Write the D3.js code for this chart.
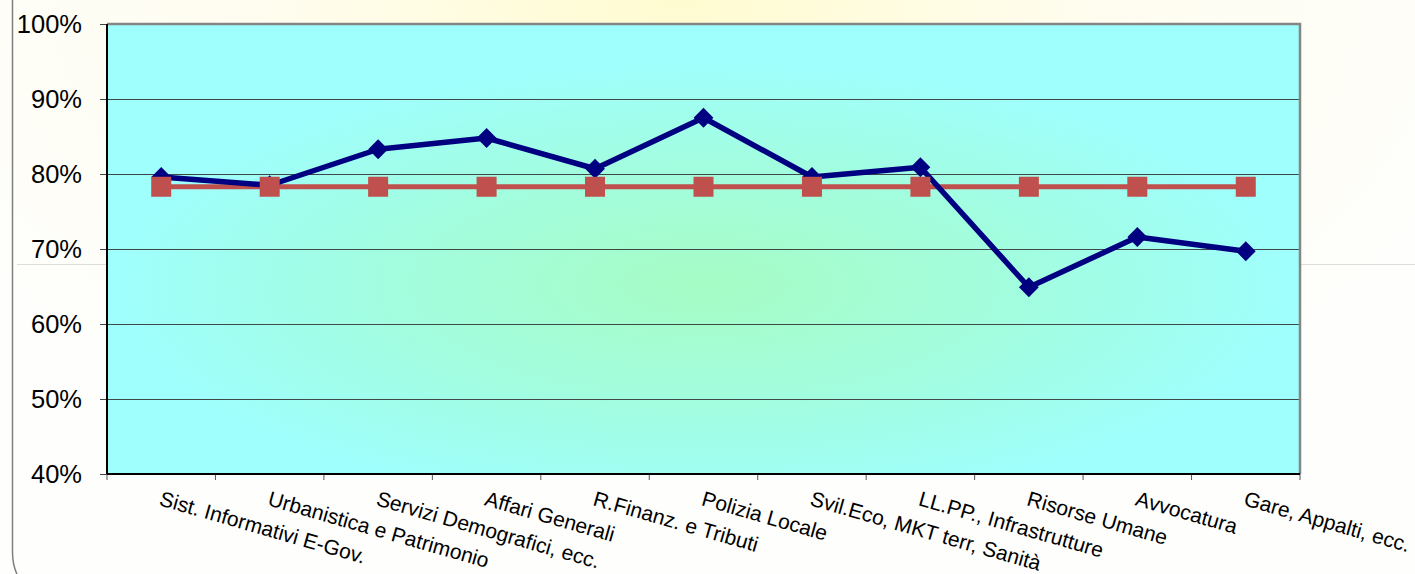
<!DOCTYPE html>
<html>
<head>
<meta charset="utf-8">
<script src="https://cdn.jsdelivr.net/npm/d3@7"></script>
<style>
  body { margin: 0; background: #fff; }
  svg { display: block; font-family: "Liberation Sans", Arial, sans-serif; }
</style>
</head>
<body>
<div class="wrapper"></div>
<script>
var categories = [
  "Sist. Informativi E-Gov.",
  "Urbanistica e Patrimonio",
  "Servizi Demografici, ecc.",
  "Affari Generali",
  "R.Finanz. e Tributi",
  "Polizia Locale",
  "Svil.Eco, MKT terr, Sanità",
  "LL.PP., Infrastrutture",
  "Risorse Umane",
  "Avvocatura",
  "Gare, Appalti, ecc."
];
var seriesValues = [0.796, 0.785, 0.833, 0.848, 0.807, 0.875, 0.796, 0.809, 0.649, 0.716, 0.697];
var averageValues = [0.783, 0.783, 0.783, 0.783, 0.783, 0.783, 0.783, 0.783, 0.783, 0.783, 0.783];
var yTicks = [0.4, 0.5, 0.6, 0.7, 0.8, 0.9, 1.0];

var width = 1415, height = 574;
var margin = { top: 24, right: 115, bottom: 100, left: 107 };
var plotW = width - margin.left - margin.right;
var plotH = height - margin.top - margin.bottom;

var svg = d3.select(".wrapper").append("svg")
  .attr("width", width)
  .attr("height", height);

var defs = svg.append("defs");

// page background: pale yellow glow at the top centre
var bgGrad = defs.append("radialGradient")
  .attr("id", "bgGrad")
  .attr("cx", "0.48").attr("cy", "0")
  .attr("r", "0.6")
  .attr("gradientTransform", "translate(0.48,0) scale(1,1.4) translate(-0.48,0)");
bgGrad.append("stop").attr("offset", "0").attr("stop-color", "#fffbd0");
bgGrad.append("stop").attr("offset", "0.5").attr("stop-color", "#fffdf0");
bgGrad.append("stop").attr("offset", "1").attr("stop-color", "#fefefc");

// plot area: green centre fading to cyan edges
var plotGrad = defs.append("radialGradient")
  .attr("id", "plotGrad")
  .attr("cx", "0.5").attr("cy", "0.58")
  .attr("r", "0.5");
plotGrad.append("stop").attr("offset", "0").attr("stop-color", "#a6fcc4");
plotGrad.append("stop").attr("offset", "0.55").attr("stop-color", "#a2fde0");
plotGrad.append("stop").attr("offset", "1").attr("stop-color", "#9ffffd");

svg.append("rect")
  .attr("width", width).attr("height", height)
  .attr("fill", "url(#bgGrad)");

// faint line hidden behind the chart
svg.append("line")
  .attr("x1", 17).attr("x2", width)
  .attr("y1", 264.5).attr("y2", 264.5)
  .attr("stroke", "#dcdcdc").attr("stroke-width", 1);

// outer frame (rounded left edge)
svg.append("path")
  .attr("d", "M12.5,0 L12.5,552 Q12.5,568 20,580")
  .attr("fill", "none")
  .attr("stroke", "#7f7f7f")
  .attr("stroke-width", 1.5);

var x = d3.scaleBand()
  .domain(categories)
  .range([0, plotW])
  .paddingInner(0).paddingOuter(0);

var y = d3.scaleLinear()
  .domain([0.4, 1.0])
  .range([plotH, 0]);

var g = svg.append("g")
  .attr("transform", "translate(" + margin.left + "," + margin.top + ")");

g.append("rect")
  .attr("width", plotW).attr("height", plotH)
  .attr("fill", "url(#plotGrad)");

// gridlines
g.append("g")
  .selectAll("line")
  .data(yTicks.filter(function(d) { return d > 0.4 && d < 1.0; }))
  .enter().append("line")
  .attr("x1", 0).attr("x2", plotW)
  .attr("y1", function(d) { return Math.round(y(d)) + 0.5; })
  .attr("y2", function(d) { return Math.round(y(d)) + 0.5; })
  .attr("stroke", "#3f4a48").attr("stroke-width", 1);

// top and right border
g.append("path")
  .attr("d", "M0,0 H" + plotW + " V" + plotH)
  .attr("fill", "none")
  .attr("stroke", "#858585")
  .attr("stroke-width", 2.5);

// y axis
var yAxis = d3.axisLeft(y)
  .tickValues(yTicks)
  .tickFormat(d3.format(".0%"))
  .tickSize(7)
  .tickPadding(18);
var yAxisG = g.append("g").call(yAxis);
yAxisG.select(".domain").remove();
yAxisG.selectAll(".tick line").attr("stroke", "#444");
yAxisG.selectAll("text")
  .attr("font-size", 25.5)
  .attr("fill", "#000");

// x axis ticks at band boundaries
var boundaries = categories.map(function(c) { return x(c); }).concat([plotW]);
g.append("g")
  .selectAll("line")
  .data(boundaries)
  .enter().append("line")
  .attr("x1", function(d) { return d; }).attr("x2", function(d) { return d; })
  .attr("y1", plotH).attr("y2", plotH + 6)
  .attr("stroke", "#555").attr("stroke-width", 1);

// axis lines
g.append("line")
  .attr("x1", 0).attr("x2", 0).attr("y1", 0).attr("y2", plotH)
  .attr("stroke", "#000").attr("stroke-width", 2);
g.append("line")
  .attr("x1", 0).attr("x2", plotW).attr("y1", plotH).attr("y2", plotH)
  .attr("stroke", "#000").attr("stroke-width", 2);

// x labels, rotated
g.append("g")
  .selectAll("text")
  .data(categories)
  .enter().append("text")
  .attr("transform", function(d) {
    return "translate(" + (x(d) + x.bandwidth() / 2 - 3) + "," + (plotH + 31) + ") rotate(16)";
  })
  .attr("font-size", 21)
  .attr("fill", "#000")
  .text(function(d) { return d; });

var cx = function(d, i) { return x(categories[i]) + x.bandwidth() / 2; };

var line = d3.line()
  .x(function(d, i) { return cx(d, i); })
  .y(function(d) { return y(d); });

// average line (drawn under the blue line)
g.append("path")
  .datum(averageValues)
  .attr("d", line)
  .attr("fill", "none")
  .attr("stroke", "#c0504d")
  .attr("stroke-width", 5);

g.append("path")
  .datum(seriesValues)
  .attr("d", line)
  .attr("fill", "none")
  .attr("stroke", "#000080")
  .attr("stroke-width", 5.5)
  .attr("stroke-linejoin", "round");

var diamond = d3.symbol().type(d3.symbolDiamond2).size(250);
g.append("g")
  .selectAll("path")
  .data(seriesValues)
  .enter().append("path")
  .attr("d", diamond)
  .attr("transform", function(d, i) { return "translate(" + cx(d, i) + "," + y(d) + ")"; })
  .attr("fill", "#000080");

g.append("g")
  .selectAll("rect")
  .data(averageValues)
  .enter().append("rect")
  .attr("x", function(d, i) { return cx(d, i) - 10; })
  .attr("y", function(d) { return y(d) - 10; })
  .attr("width", 20).attr("height", 20)
  .attr("fill", "#c0504d");
</script>
</body>
</html>
